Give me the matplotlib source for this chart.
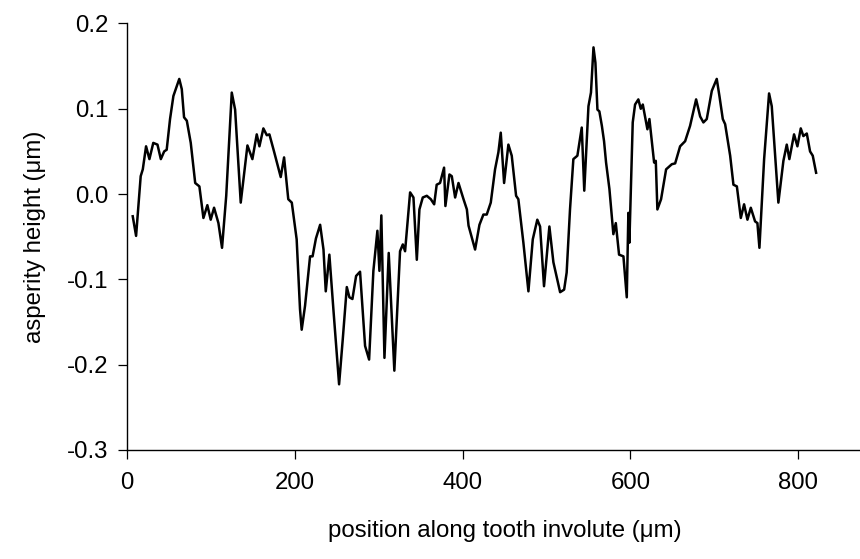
import numpy as np
import matplotlib
matplotlib.use('Agg')
import matplotlib.pyplot as plt

# asperity profile (position in um, height in um)
position = [6.5, 10.5, 16, 18.5, 22.4, 26.4, 31, 36, 40, 44, 47, 51, 55, 62, 65, 67.7, 71, 75.7,
            81, 86, 90.8, 95.5, 99.5, 103.5, 108.7, 113, 118, 124.6, 128.6, 135.3, 143.3, 149.2,
            154.4, 157.6, 162.3, 166.4, 169.5, 175, 183, 187, 192, 196.2, 202, 206, 208, 212,
            218, 221, 225, 230, 234, 236.7, 241, 245.8, 252.6, 257, 261.8, 264.9, 268.5, 272.9,
            277.6, 283.6, 288.4, 293.5, 298.3, 300.7, 303, 306.7, 311.8, 318.5, 325.3, 328.6,
            331.3, 337.3, 341.3, 345.3, 348.4, 352.4, 357.2, 362, 366, 369, 373, 377.8, 379.4,
            384.2, 387, 391, 395, 401, 405, 407, 414.8, 420, 424.7, 428.7, 433.5, 438.6, 442.6,
            445.4, 449.4, 454.5, 458.5, 463.7, 466.4, 472.4, 478.4, 483.6, 489, 492.3, 497,
            503.4, 508.2, 516.2, 521, 524, 528, 532, 536.8, 542, 545, 550, 553, 556, 558.3,
            560.7, 563, 566, 568.6, 571, 575, 579.7, 582.6, 586.5, 591.7, 595.7, 597.6, 598.8,
            602.8, 605.6, 609.5, 612.4, 614.8, 620.3, 622.7, 628.3, 630.3, 632.2, 636.6, 642.6,
            649.4, 653.4, 659.3, 665.3, 671.2, 678.4, 683.2, 687.1, 691.1, 697.1, 703, 706.2,
            710.2, 713, 719, 722.9, 727, 731.7, 735.6, 739.6, 743.6, 748.7, 751.5, 753.9, 759.5,
            765.4, 768.6, 776.5, 782.5, 786.5, 789.6, 795.2, 799.2, 803.2, 806.3, 810.4, 814.3,
            817.5, 821.5]
height = [-0.026, -0.049, 0.021, 0.029, 0.056, 0.041, 0.060, 0.058, 0.041, 0.050, 0.052, 0.088,
          0.115, 0.135, 0.123, 0.090, 0.086, 0.060, 0.013, 0.009, -0.028, -0.013, -0.030, -0.016,
          -0.034, -0.063, -0.002, 0.119, 0.099, -0.010, 0.057, 0.041, 0.070, 0.056, 0.077, 0.069,
          0.070, 0.050, 0.020, 0.043, -0.006, -0.010, -0.053, -0.135, -0.159, -0.131, -0.073,
          -0.073, -0.052, -0.036, -0.065, -0.114, -0.071, -0.135, -0.223, -0.170, -0.109, -0.121,
          -0.123, -0.096, -0.091, -0.178, -0.194, -0.090, -0.043, -0.090, -0.025, -0.192, -0.069,
          -0.207, -0.067, -0.059, -0.067, 0.002, -0.004, -0.077, -0.018, -0.004, -0.002, -0.006,
          -0.012, 0.011, 0.013, 0.031, -0.014, 0.023, 0.021, -0.004, 0.013, -0.006, -0.018,
          -0.037, -0.065, -0.036, -0.024, -0.024, -0.010, 0.029, 0.049, 0.072, 0.013, 0.058,
          0.045, -0.002, -0.006, -0.057, -0.114, -0.053, -0.030, -0.038, -0.108, -0.038, -0.080,
          -0.115, -0.112, -0.092, -0.018, 0.041, 0.045, 0.078, 0.004, 0.103, 0.119, 0.172, 0.154,
          0.099, 0.097, 0.080, 0.062, 0.037, 0.006, -0.047, -0.034, -0.071, -0.073, -0.121,
          -0.022, -0.057, 0.084, 0.105, 0.111, 0.100, 0.105, 0.076, 0.088, 0.037, 0.039, -0.018,
          -0.006, 0.029, 0.035, 0.036, 0.056, 0.062, 0.080, 0.111, 0.091, 0.084, 0.088, 0.121,
          0.135, 0.115, 0.088, 0.082, 0.045, 0.011, 0.009, -0.028, -0.012, -0.030, -0.016,
          -0.032, -0.034, -0.063, 0.041, 0.118, 0.103, -0.010, 0.039, 0.058, 0.041, 0.070,
          0.056, 0.077, 0.068, 0.071, 0.050, 0.045, 0.025]

x_ticks = [0, 200, 400, 600, 800]
y_ticks = [-0.3, -0.2, -0.1, 0.0, 0.1, 0.2]
y_ticklabels = ['-0.3', '-0.2', '-0.1', '0.0', '0.1', '0.2']

plt.rcParams['font.family'] = ['Liberation Sans', 'DejaVu Sans']
plt.rcParams['font.size'] = 17.3

fig = plt.figure(figsize=(8.6, 5.59), dpi=100)
ax = fig.add_axes([0.148, 0.195, 0.8775, 0.763])

ax.plot(position, height, color='black', linewidth=1.8, solid_joinstyle='round')

ax.set_xlim(0, 900)
ax.set_ylim(-0.3, 0.2)
ax.set_xticks(x_ticks)
ax.set_yticks(y_ticks)
ax.set_yticklabels(y_ticklabels)
ax.spines['top'].set_visible(False)
ax.spines['right'].set_visible(False)
for s in ['left', 'bottom']:
    ax.spines[s].set_linewidth(1.0)
ax.tick_params(axis='both', direction='out', length=6.5, width=0.9)
ax.tick_params(axis='x', pad=9)
ax.tick_params(axis='y', pad=7)

ax.set_xlabel('position along tooth involute (\u03bcm)', labelpad=19)
ax.set_ylabel('asperity height (\u03bcm)', labelpad=15)

fig.savefig('out.png', dpi=100)
